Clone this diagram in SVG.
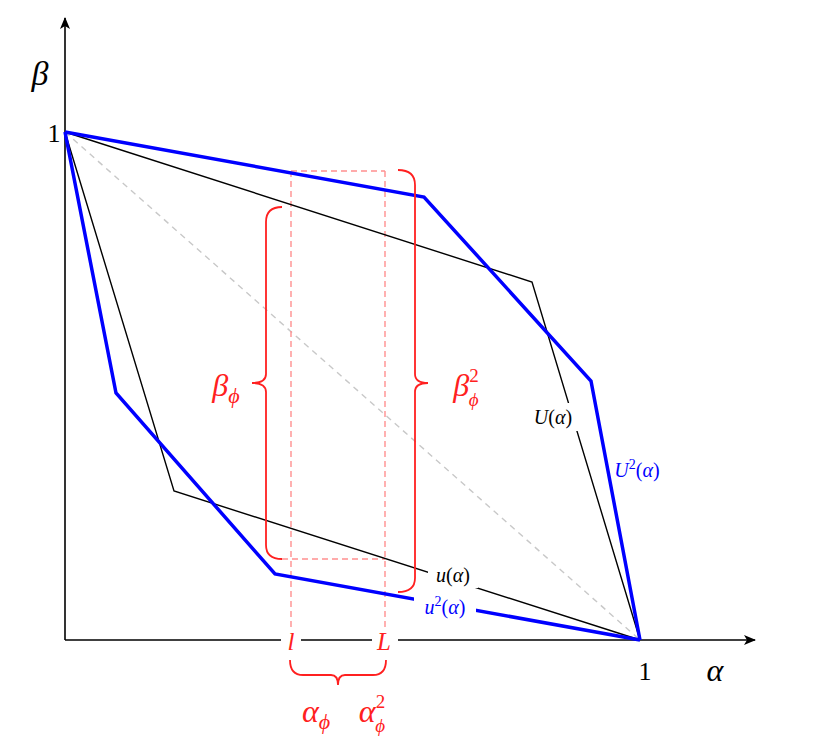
<svg xmlns="http://www.w3.org/2000/svg" width="813" height="747" viewBox="0 0 813 747">
<defs>
<marker id="arr" viewBox="0 0 12 10" refX="11" refY="5" markerWidth="12" markerHeight="10" markerUnits="userSpaceOnUse" orient="auto">
<path d="M0,0 L12,5 L0,10 L3,5 Z" fill="#000"/>
</marker>
</defs>
<style>
.ax{stroke:#000;stroke-width:1.6;fill:none}
.blk{stroke:#000;stroke-width:1.4;fill:none}
.blu{stroke:#0000ff;stroke-width:3.5;fill:none;stroke-linejoin:miter}
.gd{stroke:#c8c8c8;stroke-width:1.4;stroke-dasharray:6 5;fill:none}
.rd{stroke:#ff9090;stroke-width:1.4;stroke-dasharray:6 4;fill:none}
.br{stroke:#ff2020;stroke-width:1.8;fill:none}
.m{font-family:"Liberation Serif","DejaVu Serif",serif;font-style:italic}
.n{font-family:"Liberation Serif","DejaVu Serif",serif}
.bg{fill:#fff;stroke:none}
</style>
<rect width="813" height="747" fill="#fff"/>
<g id="guides">
<line class="gd" x1="65" y1="132" x2="640" y2="640"/>
<line class="rd" x1="291" y1="171" x2="291" y2="640"/>
<line class="rd" x1="385" y1="171" x2="385" y2="640"/>
<line class="rd" x1="291" y1="171" x2="385" y2="171"/>
<line class="rd" x1="282" y1="559" x2="385" y2="559"/>
</g>
<g id="axes">
<line class="ax" x1="65" y1="640" x2="65" y2="18" marker-end="url(#arr)"/>
<line class="ax" x1="65" y1="640" x2="755" y2="640" marker-end="url(#arr)"/>
</g>
<g id="connectors">
<polyline id="U" class="blk" points="65,132 532,282 640,640"/>
<polyline id="u" class="blk" points="65,132 174,491 640,640"/>
<polyline id="U2" class="blu" points="65,132 424,197 591,381 640,640"/>
<polyline id="u2" class="blu" points="65,132 116,393 275,574 640,640"/>
</g>
<g id="braces">
<path class="br" d="M282,207 Q266,207 266,222 L266,374 Q266,383 252,383 Q266,383 266,392 L266,545 Q266,559 282,559"/>
<path class="br" d="M398,170 Q415,170 415,185 L415,374 Q415,383 428,383 Q415,383 415,392 L415,578 Q415,592 398,592"/>
<path class="br" d="M290,660 Q290,675 303,675 L331,675 Q338,675 338,685 Q338,675 345,675 L373,675 Q386,675 386,660"/>
</g>
<g id="labels">
<rect class="bg" x="525" y="403" width="56" height="28"/>
<text class="m" x="553" y="424" font-size="20" text-anchor="middle"><tspan>U</tspan><tspan font-style="normal">(</tspan>α<tspan font-style="normal">)</tspan></text>
<text class="m" x="637" y="477" font-size="20" text-anchor="middle" fill="#0000ff">U<tspan font-style="normal" font-size="14" dy="-8">2</tspan><tspan font-style="normal" dy="8">(</tspan>α<tspan font-style="normal">)</tspan></text>
<rect class="bg" x="428" y="561" width="50" height="27"/>
<text class="m" x="453" y="582" font-size="20" text-anchor="middle">u<tspan font-style="normal">(</tspan>α<tspan font-style="normal">)</tspan></text>
<rect class="bg" x="414" y="591" width="62" height="30"/>
<text class="m" x="445" y="614" font-size="20" text-anchor="middle" fill="#0000ff">u<tspan font-style="normal" font-size="14" dy="-8">2</tspan><tspan font-style="normal" dy="8">(</tspan>α<tspan font-style="normal">)</tspan></text>
<rect class="bg" x="281" y="627" width="20" height="28"/>
<text class="m" x="291" y="650" font-size="25" text-anchor="middle" fill="#ff2020">l</text>
<rect class="bg" x="372" y="627" width="26" height="28"/>
<text class="m" x="384" y="650" font-size="25" text-anchor="middle" fill="#ff2020">L</text>
<text class="m" x="226" y="396" font-size="32" text-anchor="middle" fill="#ff2020">β<tspan font-size="22" dy="7">ϕ</tspan></text>
<text class="m" x="466" y="396" font-size="32" text-anchor="middle" fill="#ff2020">β<tspan font-size="19" dy="-14" font-style="normal">2</tspan><tspan font-size="19" dx="-10" dy="24">ϕ</tspan></text>
<text class="m" x="316" y="722" font-size="32" text-anchor="middle" fill="#ff2020">α<tspan font-size="22" dy="7">ϕ</tspan></text>
<text class="m" x="372" y="722" font-size="32" text-anchor="middle" fill="#ff2020">α<tspan font-size="19" dy="-14" font-style="normal">2</tspan><tspan font-size="19" dx="-10" dy="24">ϕ</tspan></text>
<text class="m" x="40" y="85" font-size="34" text-anchor="middle">β</text>
<text class="m" x="715" y="681" font-size="32" text-anchor="middle">α</text>
<text class="n" x="54" y="142" font-size="26" text-anchor="middle">1</text>
<text class="n" x="645" y="680" font-size="26" text-anchor="middle">1</text>
</g>
</svg>
